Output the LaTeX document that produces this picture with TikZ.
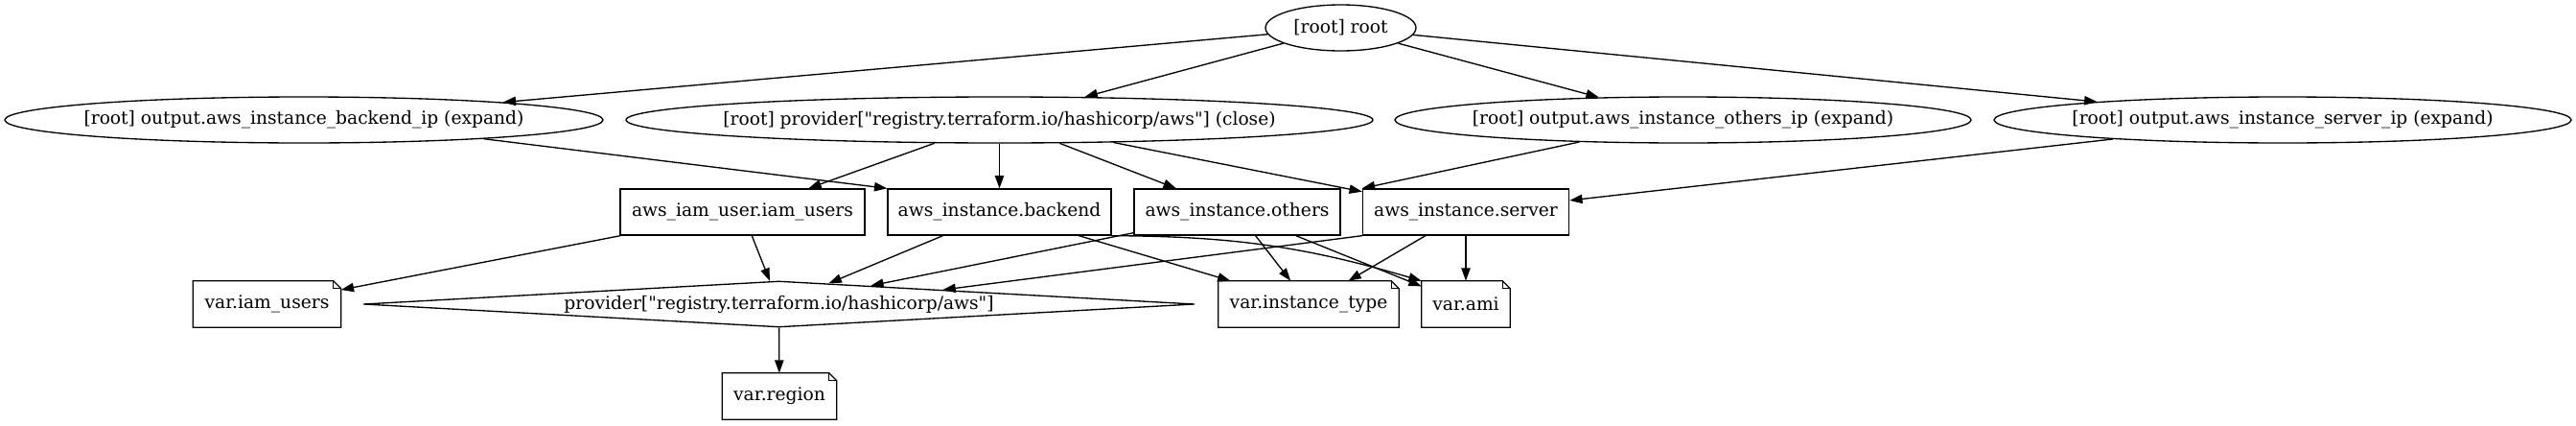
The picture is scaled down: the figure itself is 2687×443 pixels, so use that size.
\documentclass[tikz,border=0pt]{standalone}
\usepackage{fontspec}
\setmainfont{DejaVu Serif}[Ligatures=TeXOff]
\usepackage{tikz}
\usetikzlibrary{arrows.meta,shapes.geometric}
\newcommand\gvfont{\fontsize{14}{16}\selectfont}
\tikzset{
  gvell/.style ={ellipse,draw,line width=1pt,inner ysep=0pt,inner xsep=-20pt,minimum height=36pt,font=\gvfont},
  gvbox/.style ={rectangle,draw,line width=1pt,inner sep=0pt,minimum height=36pt,font=\gvfont},
  gvnote/.style={rectangle,inner sep=0pt,minimum height=36pt,font=\gvfont},
  gvdia/.style ={diamond,draw,line width=1pt,aspect=19,inner ysep=0pt,inner xsep=-40pt,
                 minimum width=650.25pt,minimum height=36pt,font=\gvfont},
  gvedge/.style={line width=1pt,-{Triangle[length=10pt,width=7pt]}},
}

\begin{document}
\begin{tikzpicture}[x=0.75pt,y=-0.75pt]
  \useasboundingbox (0,0) rectangle (2687,443);
  % root and the outputs / provider close
  \node[gvell,minimum width=117.75pt] (root)   at (1398.5,29) {[root] root};
  \node[gvell,minimum width=468pt]    (bip)    at (317,125)   {[root] output.aws\_instance\_backend\_ip (expand)};
  \node[gvell,minimum width=584.25pt] (pclose) at (1042.5,125) {[root] provider["registry.terraform.io/hashicorp/aws"] (close)};
  \node[gvell,minimum width=450.75pt] (oip)    at (1755.5,125) {[root] output.aws\_instance\_others\_ip (expand)};
  \node[gvell,minimum width=451.5pt]  (sip)    at (2381,125)  {[root] output.aws\_instance\_server\_ip (expand)};
  % resources
  \node[gvbox,minimum width=191.25pt] (iam) at (774.5,221)  {aws\_iam\_user.iam\_users};
  \node[gvbox,minimum width=174.75pt] (bk)  at (1042.5,221) {aws\_instance.backend};
  \node[gvbox,minimum width=161.25pt] (oth) at (1290.5,221) {aws\_instance.others};
  \node[gvbox,minimum width=161.25pt] (srv) at (1529,221)   {aws\_instance.server};
  % variables and provider
  \node[gvnote,minimum width=115.5pt] (viu)  at (278.5,317) {var.iam\_users};
  \node[gvdia]                        (prov) at (812.5,317) {provider["registry.terraform.io/hashicorp/aws"]};
  \node[gvnote,minimum width=141pt]   (vit)  at (1365,317)  {var.instance\_type};
  \node[gvnote,minimum width=69pt]    (vami) at (1529,317)  {var.ami};
  \node[gvnote,minimum width=89.25pt] (vreg) at (813,413)   {var.region};
  % note outlines with folded corner
  \foreach \n in {viu,vit,vami,vreg}{
    \draw[line width=1pt] (\n.south west) -- (\n.north west) -- ([xshift=-6pt]\n.north east)
      -- ([yshift=-6pt]\n.north east) -- (\n.south east) -- cycle;
    \draw[line width=1pt] ([xshift=-6pt]\n.north east) -- ([xshift=-6pt,yshift=-6pt]\n.north east)
      -- ([yshift=-6pt]\n.north east);
  }
  % edges
  \draw[gvedge] (root) -- (bip);
  \draw[gvedge] (root) -- (pclose);
  \draw[gvedge] (root) -- (oip);
  \draw[gvedge] (root) -- (sip);
  \draw[gvedge] (bip.-6.4) -- (bk.north west);
  \draw[gvedge] (pclose) -- (iam);
  \draw[gvedge] (pclose) -- (bk);
  \draw[gvedge] (pclose) -- (oth);
  \draw[gvedge] (pclose) -- (srv);
  \draw[gvedge] (oip.192) -- (srv.north west);
  \draw[gvedge] (sip) -- (srv);
  \draw[gvedge] (iam) -- (viu);
  \draw[gvedge] (iam) -- (prov);
  \draw[gvedge] (bk) -- (prov);
  \draw[gvedge] (bk) -- (vit);
  \draw[gvedge] (bk.south east) to[bend left=8] (vami.north west);
  \draw[gvedge] (oth) -- (prov);
  \draw[gvedge] (oth) -- (vit);
  \draw[gvedge] (oth) -- (vami);
  \draw[gvedge] (srv.south west) -- (prov.5.7);
  \draw[gvedge] (srv) -- (vit);
  \draw[gvedge] (srv) -- (vami);
  \draw[gvedge] (prov) -- (vreg);
\end{tikzpicture}
\end{document}
